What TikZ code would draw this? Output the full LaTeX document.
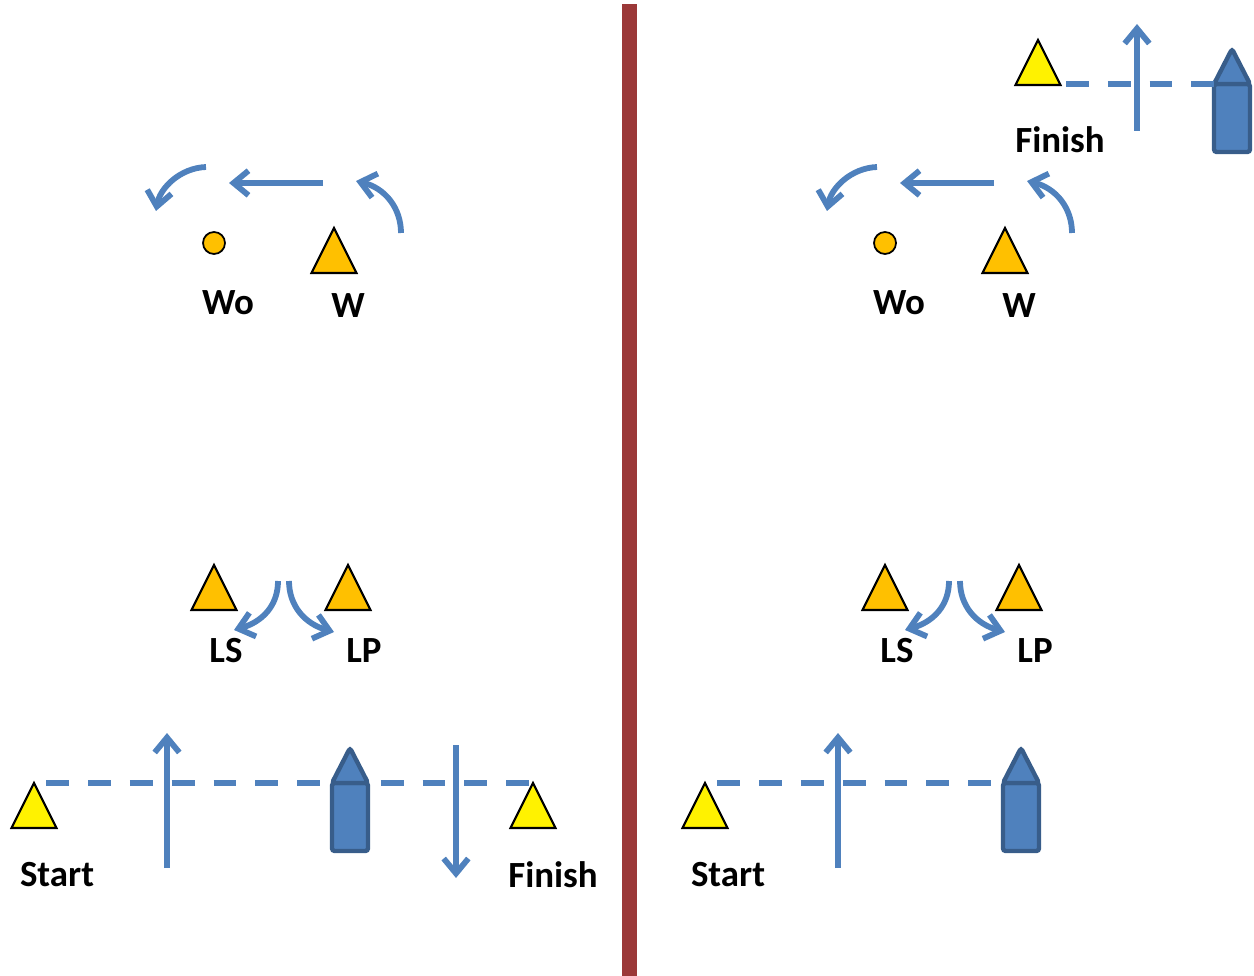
\documentclass[tikz,border=0pt]{standalone}
\usepackage{fontspec}
\setmainfont{Carlito}
\usetikzlibrary{arrows.meta}
\definecolor{boatblue}{HTML}{4F81BD}
\definecolor{boatedge}{HTML}{385D8A}
\definecolor{buoyorange}{HTML}{FFC000}
\definecolor{wallred}{RGB}{155,56,56}
\tikzstyle{buoy} = [draw=black, line width=1.2pt]
\tikzstyle{dot} = [circle, draw=black, fill=buoyorange, line width=1pt, minimum size=0.44cm, inner sep=0pt]
\tikzstyle{boat} = [draw=boatedge, fill=boatblue, line width=2.5pt, rounded corners=1.5pt]
\tikzstyle{move} = [draw=boatblue, line width=3.3pt, -{Straight Barb[length=8.5pt,width=14pt]}]
\tikzstyle{startline} = [draw=boatblue, line width=3.2pt, dash pattern=on 13pt off 10.8pt]
\tikzstyle{lbl} = [font=\fontsize{21}{25}\selectfont\bfseries, inner sep=0pt]
% name, x and y of the apex, colour
\newcommand{\buoy}[4]{\filldraw[buoy, fill=#4] (#2,#3) -- ++(-22.5,45) -- ++(45,0) -- cycle;
  \coordinate (#1) at (#2,#3);}
% name, x of the centre, y of the deck line
\newcommand{\boat}[3]{\filldraw[boat] (#2-18,#3) rectangle (#2+18,#3+68);
  \filldraw[boat] (#2-18,#3) -- (#2,#3-35) -- (#2+18,#3) -- cycle;
  \coordinate (#1) at (#2-18,#3);}

\begin{document}
\begin{tikzpicture}[x=0.02cm, y=-0.02cm]
\useasboundingbox (0,0) rectangle (1254,976);
\fill[wallred] (622,4) rectangle (637,976);
% both panels
\foreach \p/\dx in {l/0, r/671}{
  \node[dot] (wo\p) at (214+\dx,243) {};
  \buoy{w\p}{334+\dx}{228}{buoyorange}
  \node[lbl] (wolab\p) at (228+\dx,303) {Wo};
  \node[lbl] (wlab\p) at (348+\dx,306) {W};
  \draw[move] (206+\dx,167) .. controls (180+\dx,168) and (160+\dx,188) .. (156+\dx,211);
  \draw[move] (323+\dx,183) -- (229+\dx,183);
  \draw[move] (401+\dx,233) .. controls (401+\dx,208) and (385+\dx,188) .. (356+\dx,181);
  \buoy{ls\p}{214+\dx}{565}{buoyorange}
  \buoy{lp\p}{348+\dx}{565}{buoyorange}
  \node[lbl] (lslab\p) at (226+\dx,651) {LS};
  \node[lbl] (lplab\p) at (364+\dx,651) {LP};
  \draw[move] (278+\dx,581) .. controls (278+\dx,606) and (262+\dx,622) .. (234+\dx,630);
  \draw[move] (289+\dx,581) .. controls (289+\dx,606) and (305+\dx,624) .. (334+\dx,632);
  \buoy{start\p}{34+\dx}{783}{yellow}
  \node[lbl] (startlab\p) at (57+\dx,875) {Start};
}
% left panel
\buoy{finishl}{533}{783}{yellow}
\draw[startline, shorten <=7pt] (startl) -- (finishl);
\draw[move] (167,868) -- (167,733);
\boat{boatl}{350}{783}
\draw[move] (456,745) -- (456,878);
\node[lbl] (finishlabl) at (553,875) {Finish};
% right panel
\boat{boatr}{1021}{783}
\draw[startline, shorten <=7pt] (startr) -- (boatr);
\draw[move] (838,868) -- (838,733);
\buoy{finishr}{1038}{40}{yellow}
\node[lbl] (finishlabr) at (1060,140) {Finish};
\boat{boattr}{1232}{84}
\coordinate (finishend) at (1066,84);
\draw[startline] (finishend) -- (boattr);
\draw[move] (1137,131) -- (1137,24);
\end{tikzpicture}
\end{document}
